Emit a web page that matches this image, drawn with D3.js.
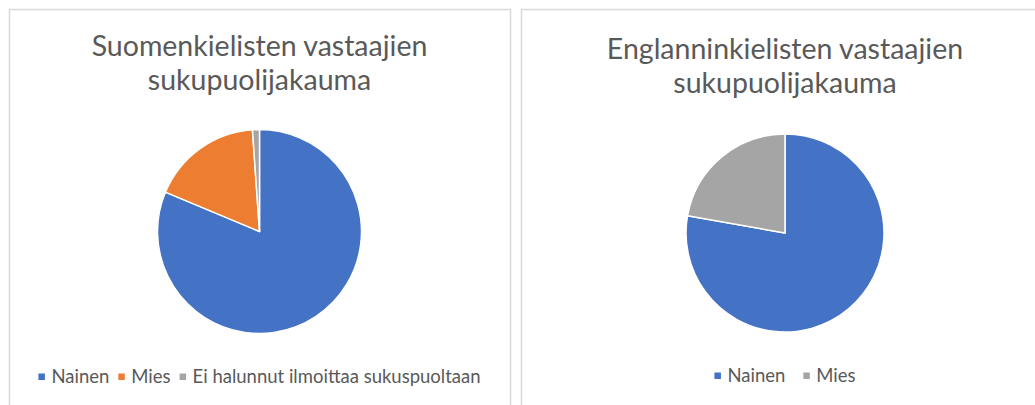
<!DOCTYPE html>
<html>
<head>
<meta charset="utf-8">
<script src="https://cdn.jsdelivr.net/npm/d3@7"></script>
<style>
  body { margin: 0; background: #fff; }
  svg { display: block; font-family: Lato, "Open Sans", sans-serif; }
</style>
</head>
<body>
<div id="chart"></div>
<script>
// data
const titleFi = ["Suomenkielisten vastaajien", "sukupuolijakauma"];
const categoriesFi = ["Nainen", "Mies", "Ei halunnut ilmoittaa sukuspuoltaan"];
const valuesFi = [81.3, 17.6, 1.1];

const titleEn = ["Englanninkielisten vastaajien", "sukupuolijakauma"];
const categoriesEn = ["Nainen", "Mies"];
const valuesEn = [77.8, 22.2];

const W = 1035, H = 405;
const svg = d3.select("#chart").append("svg")
    .attr("width", W)
    .attr("height", H);

// one panel = border + title + pie + legend
function drawPanel(opt) {
  const g = svg.append("g");

  g.append("rect")
      .attr("x", opt.x + 0.5).attr("y", 9.5)
      .attr("width", opt.w).attr("height", 420)
      .attr("fill", "#fff")
      .attr("stroke", "#d9d9d9")
      .attr("stroke-width", 1.5);

  const cx = opt.cx;

  g.selectAll(".title")
    .data(opt.title)
    .enter().append("text")
      .attr("class", "title")
      .attr("x", cx)
      .attr("y", (d, i) => opt.titleY + i * 34)
      .attr("text-anchor", "middle")
      .attr("fill", "#595959")
      .style("font-size", "28.5px")
      .text(d => d);

  const pie = d3.pie().sort(null).value(d => d.value);
  const arc = d3.arc().innerRadius(0).outerRadius(opt.r);
  const data = opt.categories.map((c, i) => ({ name: c, value: opt.values[i] }));

  const color = d3.scaleOrdinal().domain(opt.categories).range(opt.colors);

  g.append("g")
      .attr("transform", `translate(${cx},${opt.cy})`)
    .selectAll("path")
    .data(pie(data))
    .enter().append("path")
      .attr("d", arc)
      .attr("fill", d => color(d.data.name))
      .attr("stroke", "#fff")
      .attr("stroke-width", 1.5)
      .attr("stroke-linejoin", "round");

  // legend, centred under the pie
  const legend = g.append("g");
  let xpos = 0;
  opt.categories.forEach((c, i) => {
    const item = legend.append("g").attr("transform", `translate(${xpos},0)`);
    item.append("rect")
        .attr("x", 0).attr("y", -3.5)
        .attr("width", 6.5).attr("height", 6.5)
        .attr("fill", color(c));
    const t = item.append("text")
        .attr("x", 13)
        .attr("y", 0)
        .attr("dy", "0.35em")
        .attr("fill", "#595959")
        .style("font-size", "18.5px")
        .text(c);
    xpos += 13 + t.node().getComputedTextLength() + opt.legendGap;
  });
  const legendW = xpos - opt.legendGap;
  legend.attr("transform", `translate(${cx - legendW / 2},${opt.legendY})`);
}

drawPanel({
  x: 9, w: 501, cx: 259.5, cy: 231.5, r: 102,
  title: titleFi, titleY: 56,
  categories: categoriesFi, values: valuesFi,
  colors: ["#4472c4", "#ed7d31", "#a5a5a5"],
  legendY: 377, legendGap: 9
});

drawPanel({
  x: 521, w: 540, cx: 785, cy: 233, r: 99,
  title: titleEn, titleY: 59,
  categories: categoriesEn, values: valuesEn,
  colors: ["#4472c4", "#a5a5a5"],
  legendY: 376, legendGap: 18
});
</script>
</body>
</html>
